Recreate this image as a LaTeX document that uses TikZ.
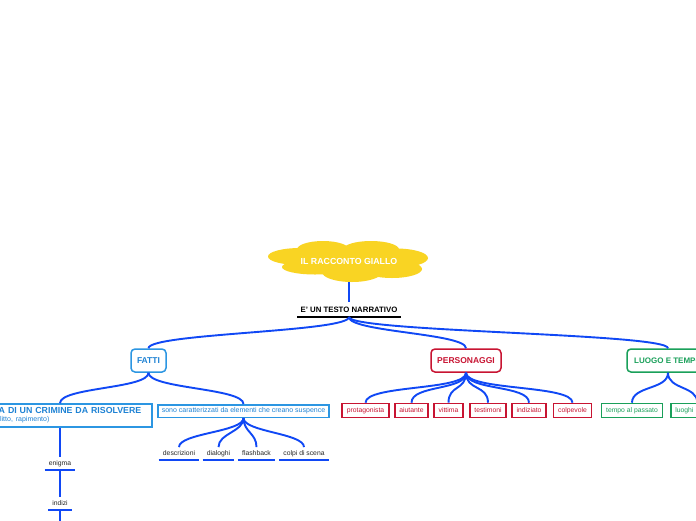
\documentclass[tikz,border=0pt]{standalone}
\usepackage{fontspec}
\setmainfont{Liberation Sans}
\usetikzlibrary{calc}
\definecolor{linkblue}{RGB}{16,72,245}
\definecolor{fblue}{RGB}{44,150,226}
\definecolor{fbluetext}{RGB}{30,130,212}
\definecolor{pred}{RGB}{200,20,50}
\definecolor{lgreen}{RGB}{26,160,90}
\definecolor{cloudy}{RGB}{249,212,35}
\definecolor{dtext}{RGB}{40,40,40}
\begin{document}
\begin{tikzpicture}[x=1pt,y=-1pt,
  link/.style={draw=linkblue, line width=1.9pt,
    to path={.. controls ($(\tikztostart)+(0,#1)$) and ($(\tikztotarget)+(0,-#1)$) .. (\tikztotarget)}},
  link/.default=13,
  straightlink/.style={draw=linkblue, line width=1.9pt},
  topbox/.style={draw, line width=1.5pt, rounded corners=4pt, fill=white,
    minimum height=23pt, inner xsep=5pt, font=\fontsize{8.5}{10}\selectfont\bfseries},
  subbox/.style={draw, line width=1.6pt, fill=white, minimum height=14pt,
    inner xsep=4.5pt, inner ysep=1pt, font=\fontsize{6.8}{8}\selectfont},
  uline/.style={inner xsep=4pt, inner ysep=3pt, text height=5pt, text depth=1.5pt,
    font=\fontsize{6.8}{8}\selectfont, text=dtext, anchor=south,
    append after command={(\tikzlastnode.south west) edge[draw=linkblue, line width=2pt] (\tikzlastnode.south east)}}
]
\useasboundingbox (0,0) rectangle (696,520);
\clip (0,0) rectangle (696,520);
\fill[white] (0,0) rectangle (696,520);

% cloud
\begin{scope}[fill=cloudy]
  \fill (323,249.5) ellipse [x radius=26, y radius=8.5];
  \fill (371,249.5) ellipse [x radius=28, y radius=8.5];
  \fill (300,256.5) ellipse [x radius=32, y radius=8.5];
  \fill (396,258) ellipse [x radius=32, y radius=9.5];
  \fill (315,267) ellipse [x radius=33, y radius=7.5];
  \fill (352,272) ellipse [x radius=30, y radius=10];
  \fill (392,269) ellipse [x radius=30, y radius=9];
  \fill (349,261) ellipse [x radius=62, y radius=13];
\end{scope}

\node[minimum width=150pt, minimum height=41pt, text=white,
      font=\fontsize{8.8}{10}\selectfont\bfseries] (cloud) at (349,261.5) {IL RACCONTO GIALLO};

\node[anchor=south, inner xsep=3pt, inner ysep=3.7pt, text height=6pt, text depth=1pt,
      font=\fontsize{7.8}{9}\selectfont\bfseries,
      append after command={(\tikzlastnode.south west) edge[draw=black, line width=1.4pt] (\tikzlastnode.south east)}]
      (narr) at (349,317) {E' UN TESTO NARRATIVO};

\node[topbox, draw=fblue, text=fbluetext, minimum width=35pt] (fatti) at (148.5,360.5) {FATTI};
\node[topbox, draw=pred, text=pred, minimum width=70pt] (pers) at (466,360.5) {PERSONAGGI};
\node[topbox, draw=lgreen, text=lgreen, minimum width=82pt,
      font=\fontsize{8}{10}\selectfont\bfseries] (luogo) at (668,360.5) {LUOGO E TEMPO};

\node[draw=fblue, line width=1.6pt, fill=white, minimum height=23pt, text width=176pt,
      inner xsep=4pt, inner ysep=2pt, align=left, text=fbluetext,
      font=\fontsize{8.8}{9.5}\selectfont\bfseries]
      (storia) at (60,415.5)
      {STORIA DI UN CRIMINE DA RISOLVERE\\[-1.5pt]
       {\fontsize{7}{8}\selectfont\mdseries\hspace*{18pt}(delitto, rapimento)}};
\node[draw=fblue, line width=1.5pt, fill=white, minimum height=12.5pt, inner xsep=4pt,
      inner ysep=1pt, text=fbluetext, font=\fontsize{7}{8}\selectfont]
      (sono) at (243.5,411) {sono caratterizzati da elementi che creano suspence};

\node[subbox, draw=pred, text=pred] (prot) at (365.5,410.5) {protagonista};
\node[subbox, draw=pred, text=pred] (aiut) at (411.5,410.5) {aiutante};
\node[subbox, draw=pred, text=pred] (vitt) at (448.5,410.5) {vittima};
\node[subbox, draw=pred, text=pred] (test) at (488,410.5) {testimoni};
\node[subbox, draw=pred, text=pred] (indz) at (529,410.5) {indiziato};
\node[subbox, draw=pred, text=pred] (colp) at (572.5,410.5) {colpevole};

\node[subbox, draw=lgreen, text=lgreen] (tempo) at (632,410.5) {tempo al passato};
\node[subbox, draw=lgreen, text=lgreen, anchor=west, text width=44pt, align=left] (luoghi) at (670,410.5) {luoghi};

\node[uline] (desc) at (179,460) {descrizioni};
\node[uline] (dial) at (218.5,460) {dialoghi};
\node[uline] (flash) at (256.5,460) {flashback};
\node[uline] (colpi) at (304,460) {colpi di scena};

\node[uline] (enig) at (60,470) {enigma};
\node[uline] (indizi) at (60,510) {indizi};
\coordinate (tail) at (60,530);

% connectors
\draw[straightlink] (cloud.south) -- (narr.north);
\draw[link=15] (narr.south) to (fatti.north);
\draw[link=15] (narr.south) to (pers.north);
\draw[link=15] (narr.south) to (luogo.north);

\draw[link=16] (fatti.south) to (storia.north);
\draw[link=16] (fatti.south) to (sono.north);

\draw[link=18] (pers.south) to (prot.north);
\draw[link=18] (pers.south) to (aiut.north);
\draw[link=18] (pers.south) to (vitt.north);
\draw[link=18] (pers.south) to (test.north);
\draw[link=18] (pers.south) to (indz.north);
\draw[link=18] (pers.south) to (colp.north);

\draw[link=17] (luogo.south) to (tempo.north);
\draw[link=17] (luogo.south) to (luoghi.north);

\draw[link=14] (sono.south) to (desc.north);
\draw[link=14] (sono.south) to (dial.north);
\draw[link=14] (sono.south) to (flash.north);
\draw[link=14] (sono.south) to (colpi.north);

\draw[straightlink] (storia.south) -- (enig.north);
\draw[straightlink] (enig.south) -- (indizi.north);
\draw[straightlink] (indizi.south) -- (tail);
\end{tikzpicture}
\end{document}
